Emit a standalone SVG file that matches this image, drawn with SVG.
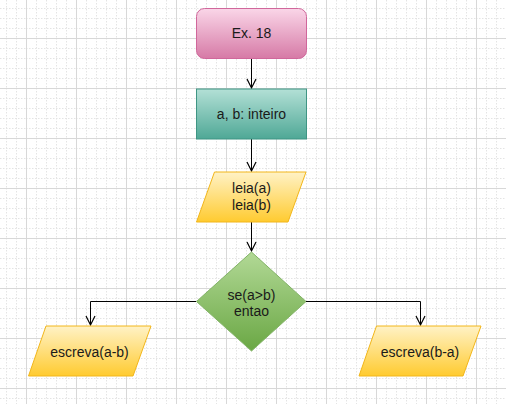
<svg xmlns="http://www.w3.org/2000/svg" width="506" height="404" viewBox="0 0 506 404">
<defs>
<pattern id="grid" patternUnits="userSpaceOnUse" x="26" y="38" width="50" height="50">
<g stroke="#e4e4e4" stroke-width="1" stroke-dasharray="1.5 1.5" fill="none">
<path d="M10.5 0V50M20.5 0V50M30.5 0V50M40.5 0V50M0 10.5H50M0 20.5H50M0 30.5H50M0 40.5H50"/>
</g>
<path d="M0.5 0V50M0 0.5H50" stroke="#d8d8d8" stroke-width="1" fill="none"/>
</pattern>
<linearGradient id="gPink" x1="0" y1="0" x2="0" y2="1"><stop offset="0" stop-color="#fad6e8"/><stop offset="1" stop-color="#d67aa6"/></linearGradient>
<linearGradient id="gTeal" x1="0" y1="0" x2="0" y2="1"><stop offset="0" stop-color="#b3e0d6"/><stop offset="1" stop-color="#4fa896"/></linearGradient>
<linearGradient id="gYellow" x1="0" y1="0" x2="0" y2="1"><stop offset="0" stop-color="#fff2c6"/><stop offset="1" stop-color="#ffcb30"/></linearGradient>
<linearGradient id="gGreen" x1="0" y1="0" x2="0" y2="1"><stop offset="0" stop-color="#b2d996"/><stop offset="1" stop-color="#6aa744"/></linearGradient>
<marker id="arr" markerUnits="userSpaceOnUse" markerWidth="12" markerHeight="12" refX="10" refY="6" orient="auto">
<path d="M1 1.5L10 6L1 10.5" fill="none" stroke="#000" stroke-width="1.2"/>
</marker>
</defs>
<style>
text{font-family:"Liberation Sans",Arial,sans-serif;font-size:14px;fill:#1a1a1a;text-anchor:middle}
.conn{fill:none;stroke:#000;stroke-width:1;marker-end:url(#arr)}
.io{fill:url(#gYellow);stroke:#f2b61a;stroke-width:1}
</style>
<rect width="506" height="404" fill="#fff"/>
<rect width="506" height="404" fill="url(#grid)"/>
<g id="connectors">
<path class="conn" d="M251.5 58V88"/>
<path class="conn" d="M251.5 139V171"/>
<path class="conn" d="M251.5 222V251"/>
<path class="conn" d="M196 301.5H90.5V325"/>
<path class="conn" d="M306 301.5H420.5V325"/>
</g>
<g id="start">
<rect x="196.5" y="8.5" width="110" height="50" rx="8" fill="url(#gPink)" stroke="#d0679b"/>
<text x="251.5" y="38">Ex. 18</text>
</g>
<g id="decl">
<rect x="196.5" y="89" width="110" height="50" fill="url(#gTeal)" stroke="#3f9584"/>
<text x="251.5" y="119">a, b: inteiro</text>
</g>
<g id="read">
<path class="io" d="M214.5 172H306L288 222H196.5Z"/>
<text x="251.5" y="193">leia(a)</text>
<text x="251.5" y="210">leia(b)</text>
</g>
<g id="decision">
<path d="M251.5 252L306 301.5L251.5 351L196.5 301.5Z" fill="url(#gGreen)" stroke="#82b366"/>
<text x="251.5" y="300">se(a&gt;b)</text>
<text x="251.5" y="316">entao</text>
</g>
<g id="outLeft">
<path class="io" d="M46 326H151L133 376H28.5Z"/>
<text x="89.5" y="357">escreva(a-b)</text>
</g>
<g id="outRight">
<path class="io" d="M376.5 326H481L463 376H359Z"/>
<text x="420" y="357">escreva(b-a)</text>
</g>
</svg>
